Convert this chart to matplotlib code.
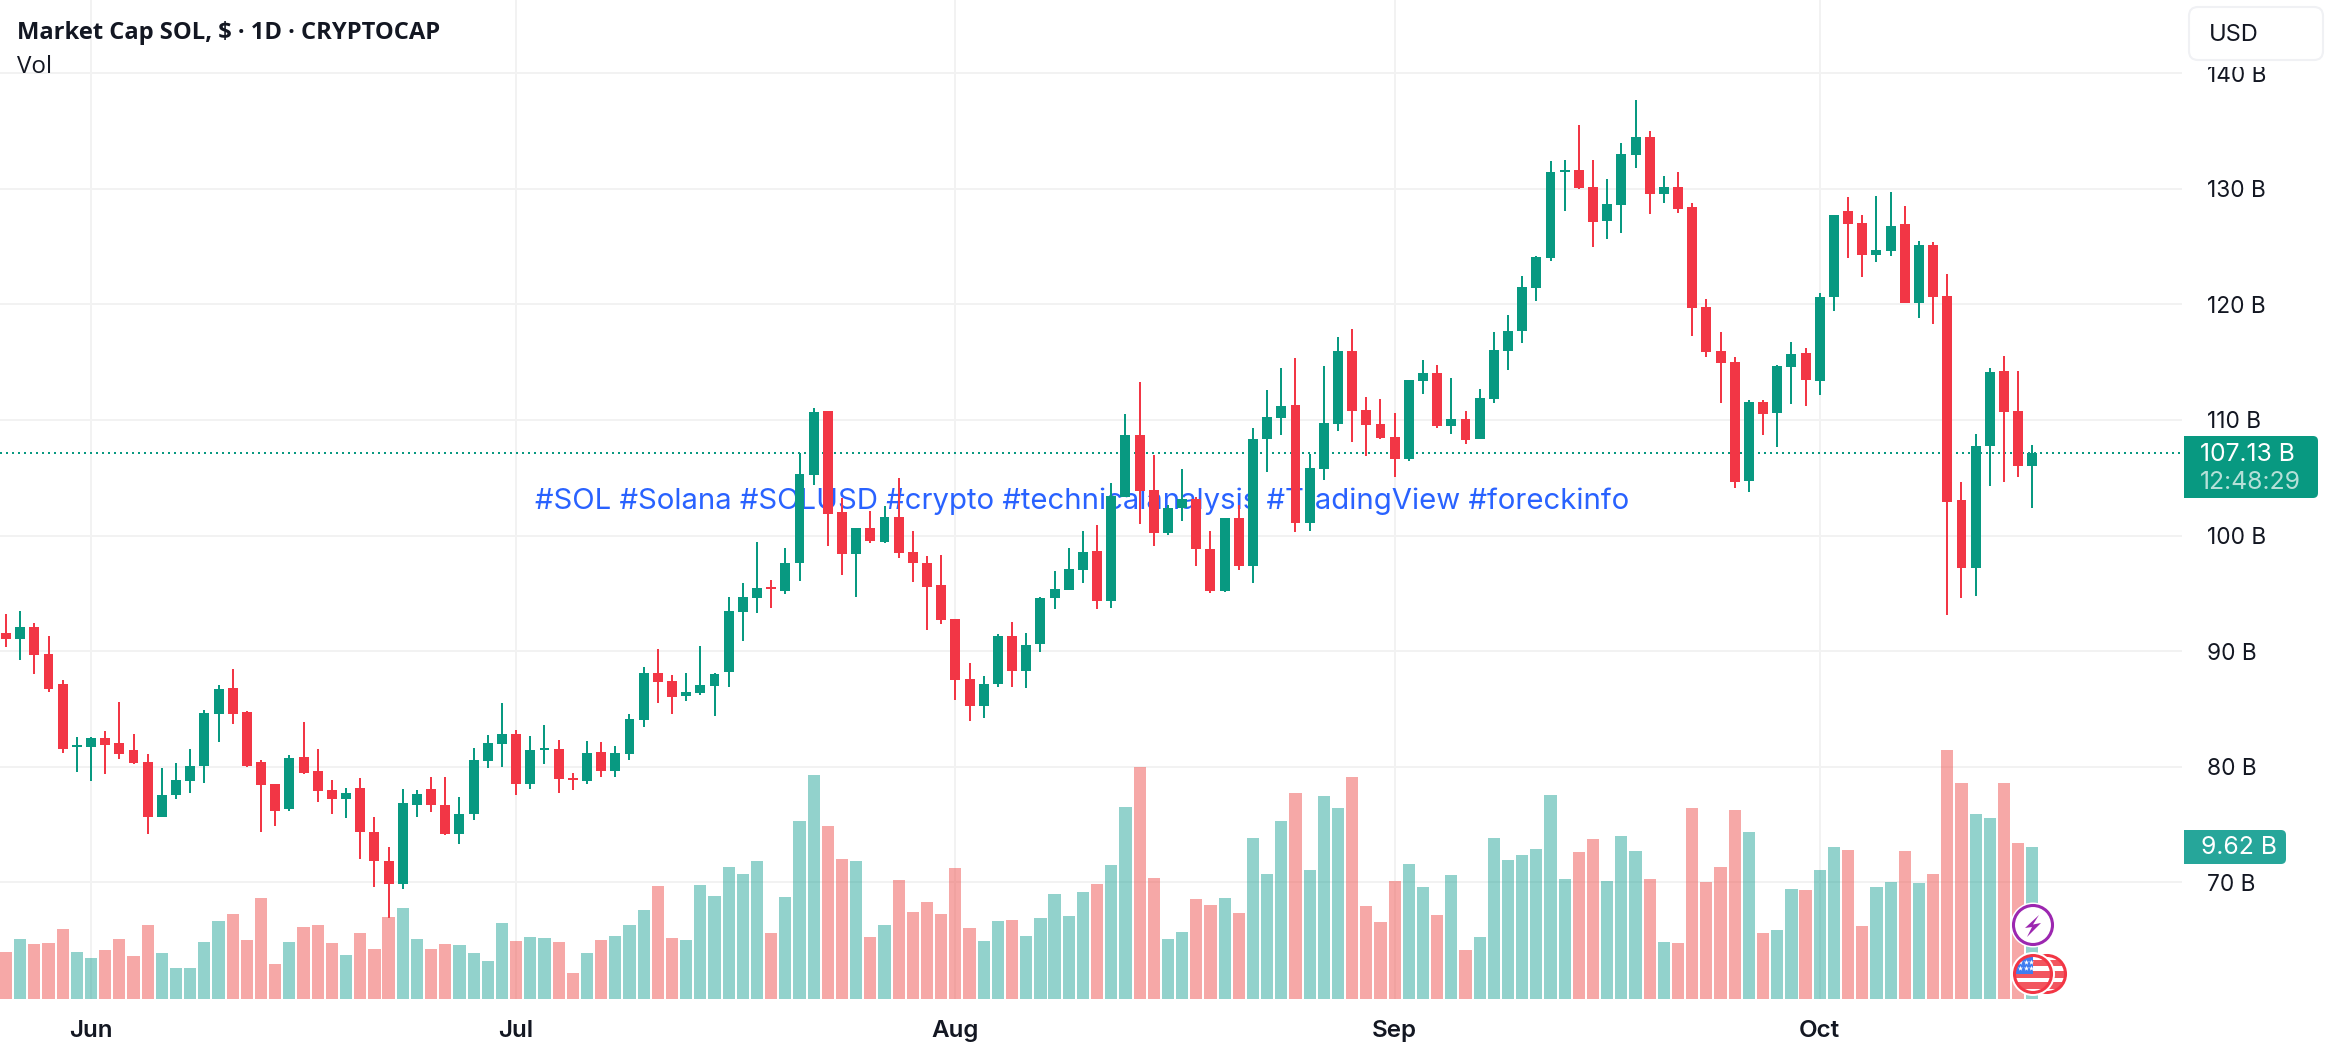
import matplotlib
matplotlib.use("Agg")
import matplotlib.pyplot as plt
import numpy as np
from matplotlib.patches import Circle, FancyBboxPatch, Polygon, Rectangle

# daily candles, market cap in billions
opens = [91.56,91.04,92.08,89.74,87.14,81.68,81.68,82.46,82.02,81.42,
         80.37,75.61,77.51,78.73,80.03,84.54,86.79,84.71,80.37,78.47,
         76.30,80.81,79.59,77.95,77.17,78.12,74.39,71.88,69.88,76.65,
         78.03,76.73,74.22,75.87,80.46,81.94,82.80,78.47,81.42,81.50,
         79.01,78.75,81.28,79.62,81.10,84.07,88.08,87.38,86.12,86.38,
         87.01,88.19,93.37,94.57,95.52,95.18,97.59,105.26,110.78,101.99,
         98.37,100.61,99.40,101.56,98.54,97.66,95.69,92.76,87.59,85.26,
         87.16,91.30,88.28,90.61,94.57,95.26,96.99,98.62,94.31,103.36,
         108.70,103.96,100.25,102.41,103.18,98.87,95.17,101.55,97.32,108.36,
         110.17,111.29,101.12,105.77,109.65,115.94,110.86,109.65,108.53,106.63,
         113.36,114.05,109.48,110.08,108.36,111.84,115.99,117.72,121.44,124.03,
         131.47,131.64,130.17,127.23,128.61,132.94,134.49,129.56,130.17,128.44,
         119.79,115.99,115.04,104.75,111.58,110.63,114.61,115.82,113.40,120.66,
         128.09,127.06,124.29,124.64,126.97,120.14,125.15,120.75,103.03,97.15,
         107.70,114.27,110.81,105.97]
closes = [91.04,92.08,89.65,86.70,81.50,81.85,82.46,81.85,81.07,80.29,
          75.61,77.51,78.81,80.03,84.62,86.70,84.54,80.03,78.38,76.21,
          80.72,79.42,77.86,77.17,77.69,74.31,71.88,69.88,76.82,77.60,
          76.65,74.22,75.95,80.55,82.02,82.80,78.47,81.42,81.59,78.90,
          78.84,81.19,79.62,81.19,84.16,88.08,87.30,86.07,86.47,87.07,
          88.02,93.45,94.66,95.43,95.35,97.66,105.35,110.69,101.90,98.37,
          100.61,99.49,101.56,98.45,97.59,95.52,92.68,87.50,85.26,87.16,
          91.30,88.28,90.52,94.57,95.35,97.07,98.54,94.31,103.44,108.70,
          103.87,100.25,102.41,103.18,98.79,95.17,101.55,97.32,108.36,110.25,
          111.20,101.12,105.86,109.74,115.94,110.77,109.56,108.44,106.63,113.44,
          114.05,109.48,110.08,108.27,111.89,116.08,117.72,121.52,124.12,131.47,
          131.64,130.08,127.14,128.70,133.02,134.49,129.56,130.17,128.27,119.71,
          115.90,114.95,104.67,111.58,110.54,114.69,115.73,113.48,120.66,127.75,
          126.97,124.29,124.72,126.80,120.14,125.15,120.66,102.94,97.15,107.78,
          114.18,110.72,105.97,107.13]
highs = [93.21,93.47,92.43,91.30,87.48,82.54,82.54,83.06,85.58,82.80,
         81.07,79.85,80.29,81.50,84.88,87.05,88.44,84.80,80.55,78.47,
         80.98,83.84,81.50,78.81,78.12,78.99,75.69,73.09,78.03,77.95,
         79.07,79.07,77.34,81.59,82.72,85.49,83.15,82.63,83.58,82.28,
         79.45,82.24,82.15,81.80,84.59,88.60,90.17,87.91,88.11,90.43,
         88.11,94.66,95.87,99.40,96.12,98.88,107.16,111.04,110.78,103.28,
         100.61,102.16,102.59,105.00,100.43,98.19,98.28,92.76,88.97,87.85,
         91.47,92.50,91.56,94.66,96.90,98.88,100.43,100.87,104.56,110.51,
         113.27,106.98,102.67,105.77,103.36,100.43,101.55,102.67,109.31,112.58,
         114.48,115.34,107.06,114.65,117.15,117.84,111.98,111.81,110.60,113.44,
         115.17,114.74,113.62,110.77,112.67,117.63,119.10,122.47,124.20,132.42,
         132.50,135.53,132.50,130.86,133.97,137.69,135.01,131.12,131.47,128.79,
         120.49,117.63,115.47,111.75,111.75,114.78,116.77,116.25,121.01,127.75,
         129.30,127.75,129.39,129.74,128.53,125.50,125.41,122.65,104.59,108.82,
         114.53,115.56,114.27,107.87]
lows = [90.35,89.22,88.01,86.44,81.16,79.51,78.73,79.33,80.63,80.20,
        74.22,75.61,77.17,77.69,78.55,82.11,83.67,79.94,74.39,74.91,
        76.13,79.33,76.91,75.87,75.52,72.05,69.62,66.93,69.45,75.69,
        76.04,74.13,73.35,75.43,79.85,79.94,77.51,78.03,80.20,77.69,
        77.96,78.49,79.10,79.10,80.58,83.46,85.55,84.59,85.69,86.21,
        84.40,86.90,90.87,93.28,93.71,94.92,96.04,104.40,99.06,96.56,
        94.66,99.31,99.31,98.02,95.95,91.81,92.33,85.78,83.97,84.23,
        86.90,86.90,86.81,89.92,93.62,95.26,95.87,93.62,93.70,103.36,
        101.03,99.13,100.08,101.29,97.32,94.99,95.08,96.98,95.86,105.51,
        108.70,100.34,100.43,104.82,109.05,108.10,106.89,108.36,105.08,106.46,
        112.24,109.31,108.79,107.93,108.36,111.49,114.35,116.68,120.31,123.77,
        128.09,130.00,124.98,125.67,126.19,131.81,127.83,128.79,127.92,117.29,
        115.47,111.49,104.15,103.80,108.73,107.69,111.41,111.24,112.19,119.45,
        124.03,122.39,123.69,124.20,120.14,118.84,118.26,93.09,94.56,94.73,
        104.24,104.59,105.10,102.34]
volumes = [2.97,3.80,3.48,3.54,4.43,2.97,2.59,3.10,3.80,2.72,
           4.68,2.91,1.96,1.96,3.61,4.94,5.38,3.73,6.39,2.22,
           3.61,4.56,4.68,3.54,2.78,4.18,3.16,5.19,5.76,3.80,
           3.16,3.48,3.42,2.91,2.41,4.81,3.67,3.92,3.86,3.61,
           1.65,2.91,3.73,3.99,4.68,5.63,7.15,3.86,3.73,7.22,
           6.52,8.35,7.91,8.73,4.18,6.46,11.27,14.18,10.95,8.86,
           8.73,3.92,4.68,7.53,5.51,6.14,5.38,8.29,4.49,3.67,
           4.94,5.00,3.99,5.13,6.65,5.25,6.77,7.28,8.48,12.15,
           14.68,7.66,3.80,4.24,6.33,5.95,6.39,5.44,10.19,7.91,
           11.27,13.04,8.16,12.85,12.09,14.05,5.89,4.87,7.47,8.54,
           7.09,5.32,7.85,3.10,3.92,10.19,8.80,9.11,9.49,12.91,
           7.59,9.30,10.13,7.47,10.32,9.37,7.59,3.61,3.54,12.09,
           7.41,8.35,11.96,10.57,4.18,4.37,6.96,6.90,8.16,9.62,
           9.43,4.62,7.09,7.41,9.37,7.34,7.91,15.76,13.67,11.71,
           11.46,13.67,9.85,9.62]

price_ticks = [70, 80, 90, 100, 110, 120, 130, 140]
month_names = ["Jun", "Jul", "Aug", "Sep", "Oct"]
month_bars = [7, 37, 68, 99, 129]
last_price = 107.13
last_price_label = "107.13 B"
countdown = "12:48:29"
last_vol_label = "9.62 B"
title = "Market Cap SOL, $ \u00b7 1D \u00b7 CRYPTOCAP"
hashtags = "#SOL #Solana #SOLUSD #crypto #technicalanalysis #TradingView #foreckinfo"

UP = "#089981"
DOWN = "#F23645"
GRID = "#F2F2F2"
INK = "#131722"
W, H = 2330, 1056
PLOT_R, PLOT_B = 2182, 999

x = np.arange(1, len(opens) + 1)
opens = np.array(opens)
closes = np.array(closes)
is_up = closes >= opens

fig = plt.figure(figsize=(W / 100, H / 100), dpi=100, facecolor="white")
ax = fig.add_axes([0, 1 - PLOT_B / H, PLOT_R / W, PLOT_B / H])
ax_v = ax.twinx()
ax.set_zorder(1)
ax_v.set_zorder(2)
ax_v.patch.set_visible(False)

px = 0.72  # points per pixel at dpi 100

# grid
ax.set_yticks(price_ticks)
ax.set_yticklabels([f"{p} B" for p in price_ticks], fontsize=16.3, family="Inter", color=INK)
ax.set_xticks(month_bars)
ax.set_xticklabels(month_names, fontsize=17.4, family="Inter", fontweight="semibold", color=INK)
ax.grid(True, color=GRID, lw=2 * px, zorder=0)
ax.set_axisbelow(True)
ax.yaxis.tick_right()
ax.tick_params(axis="y", length=0, pad=25 * px)
ax.tick_params(axis="x", length=0, pad=21 * px)
for a in (ax, ax_v):
    for s in a.spines.values():
        s.set_visible(False)
ax_v.set_yticks([])

# watermark text sits under the candles
ax.annotate(hashtags, xy=(535 / PLOT_R, 1 - 501 / PLOT_B), xycoords="axes fraction", color="#2962FF",
            fontsize=21.1, family="Inter", va="center", ha="left", zorder=1.5)

# last price dotted line
ax.axhline(last_price, color=UP, lw=2 * px, linestyle=(0, (1, 2)), zorder=2)

# candles
colors = np.where(is_up, UP, DOWN)
ax.vlines(x, lows, highs, colors=colors, lw=2 * px, zorder=3)
ax.bar(x, np.abs(closes - opens), bottom=np.minimum(opens, closes), width=0.7, color=colors, lw=0, zorder=4)

# volume
vol_colors = [(38 / 255, 166 / 255, 154 / 255, 0.5) if u else (239 / 255, 83 / 255, 80 / 255, 0.5) for u in is_up]
ax_v.bar(x, volumes, width=0.86, color=vol_colors, lw=0)

ax.set_xlim(1 - 6 / 14.17, 1 + (PLOT_R - 6) / 14.17)
ax.set_ylim(130 - (PLOT_B - 188.7) / 11.56, 130 + 188.7 / 11.56)
ax_v.set_ylim(0, PLOT_B / 15.8)

# overlay in pixel coordinates for the labels and badges
ov = fig.add_axes([0, 0, 1, 1], zorder=5)
ov.set_xlim(0, W)
ov.set_ylim(H, 0)
ov.axis("off")
ov.patch.set_visible(False)


def label_box(x0, x1, y0, y1, color):
    ov.add_patch(FancyBboxPatch((x0 + 5, y0 + 5), x1 - x0 - 10, y1 - y0 - 10,
                                boxstyle="round,pad=5,rounding_size=5", fc=color, ec="none"))
    ov.add_patch(Rectangle((x0, y0), 10, y1 - y0, fc=color, ec="none"))


ov.text(17, 33, title, fontsize=17.1, family="Open Sans", fontweight="bold", color=INK, va="center")
ov.text(17, 67, "Vol", fontsize=17.4, family="Open Sans", color=INK, va="center")

# currency button hides the top of the 140 B label
ov.add_patch(Rectangle((2184, 0), 146, 67, fc="white", ec="none"))
ov.add_patch(FancyBboxPatch((2197, 15), 118, 37, boxstyle="round,pad=8,rounding_size=9",
                            fc="white", ec="#F0F1F4", lw=1.5))
ov.text(2209, 35, "USD", fontsize=17, family="Inter", color=INK, va="center")

label_box(2184, 2318, 436, 498, UP)
ov.text(2200, 454.5, last_price_label, fontsize=17.8, family="Inter", color="white", va="center")
ov.text(2200, 482.5, countdown, fontsize=17.8, family="Inter", color="#B5E0D8", va="center")
label_box(2184, 2286, 830, 864, "#26A69A")
ov.text(2201, 848, last_vol_label, fontsize=17.8, family="Inter", color="white", va="center")


def flag(cx, cy, z, r=18.5):
    ov.add_patch(Circle((cx, cy), r + 3.5, fc="white", ec="none", zorder=z))
    clip = Circle((cx, cy), r - 1, transform=ov.transData)
    for top in (cy - r + 4, cy - 3, cy + 8):
        s = Rectangle((cx - r, top), 2 * r, 6.5, fc="#F2565F", ec="none", zorder=z + 0.1)
        ov.add_patch(s)
        s.set_clip_path(clip)
    c = Rectangle((cx - r, cy - r), r, r, fc="#3F7DF0", ec="none", zorder=z + 0.2)
    ov.add_patch(c)
    c.set_clip_path(clip)
    sx, sy = np.meshgrid(np.arange(cx - 13, cx, 5.5), np.arange(cy - 12, cy - 1, 5.5))
    stars = ov.scatter(sx.ravel(), sy.ravel(), s=16, marker="*", color="white", lw=0, zorder=z + 0.3)
    stars.set_clip_path(clip)
    ov.add_patch(Circle((cx, cy), r, fc="none", ec=DOWN, lw=2.2, zorder=z + 0.4))


flag(2047, 974, 2)
flag(2033, 974, 3)
ov.add_patch(Circle((2033, 925), 22.5, fc="white", ec="none", zorder=5))
ov.add_patch(Circle((2033, 925), 19.5, fc="white", ec="#9C27B0", lw=2.2, zorder=5))
ov.add_patch(Polygon([(2039, 915), (2025, 928), (2032, 927), (2027, 937), (2041, 923), (2033, 924.5)],
                     fc="#9C27B0", ec="none", zorder=6))

fig.savefig("out.png", dpi=100, facecolor="white")
